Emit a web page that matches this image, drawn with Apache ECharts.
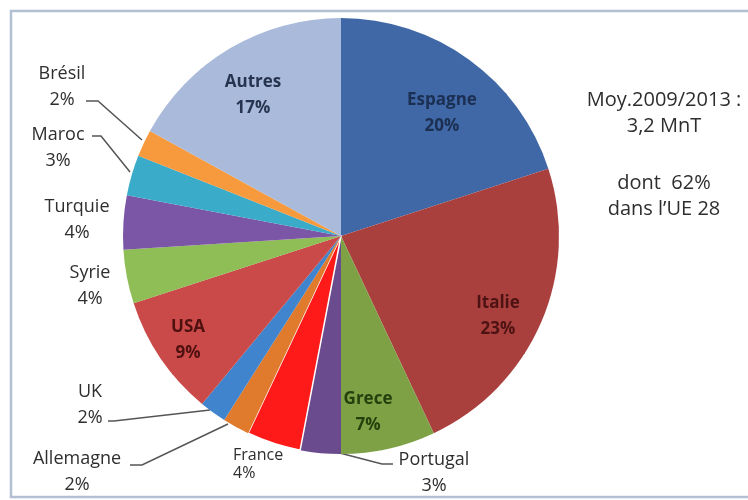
<!DOCTYPE html>
<html><head><meta charset="utf-8">
<script src="https://cdn.jsdelivr.net/npm/echarts@6/dist/echarts.min.js"></script>
<style>html,body{margin:0;padding:0;background:#fff}#c{width:748px;height:500px}</style>
</head><body><div id="c"></div>
<script>
// ---- data ----
const categories = ['Espagne','Italie','Grece','Portugal','France','Allemagne','UK','USA','Syrie','Turquie','Maroc','Brésil','Autres'];
const shares = [20,23,7,3,4,2,2,9,4,4,3,2,17];
const noteLines = ['Moy.2009/2013 :','3,2 MnT','dont  62%','dans l\u2019UE 28'];

// ---- styles / layout ----
const sliceColors = ['#4068a6','#a9403e','#7fa146','#6a4b8e','#ff1a1a','#e07a2c','#3f84cc','#c94a48','#8fbd56','#7c56a6','#3aabc9','#f79a3d','#a9badb'];
const insideText = {0:'#1b2f52',1:'#4d1212',2:'#24400c',7:'#4f1010',12:'#27344f'};
const labelPos = [
  [442,113],[498,316],[368,412],[434,473,'center'],[233,464,'left'],[77,472],[90,405],
  [188,340],[90,286],[77,220],[58,148],[62,87],[253,95]
];
const linePts = {
  3:[[332,451],[382,464],[393,464]],
  5:[[228,424],[142,465],[130,465]],
  6:[[210,410],[114,421],[108,421]],
  10:[[130,172],[101,136],[92,136]],
  11:[[142,140],[98,101],[86,101]]
};
const noLine = {8:true,9:true,4:true};

const chart = echarts.init(document.getElementById('c'), null, {renderer:'canvas'});
const data = categories.map((n,i)=>{
  const inside = insideText[i] !== undefined;
  const d = {name:n, value:shares[i], itemStyle:{color:sliceColors[i]}};
  if (inside) {
    d.label = {position:'inside', color:insideText[i], fontWeight:'bold', fontSize:17, lineHeight:26};
  } else {
    d.label = {position:'outside', color:'#2e2e2e', fontSize:18, lineHeight:26};
    if (noLine[i]) d.labelLine = {show:false};
  }
  if (n === 'France') {
    d.itemStyle.borderColor = '#ffffff';
    d.itemStyle.borderWidth = 1.5;
    d.label.fontSize = 16; d.label.lineHeight = 18;
  }
  return d;
});

chart.setOption({
  backgroundColor:'#ffffff',
  animation:false,
  textStyle:{fontFamily:'Open Sans'},
  graphic:[
    {type:'rect', shape:{x:11,y:11,width:760,height:486}, style:{fill:'none', stroke:'#b3bfd3', lineWidth:2.5}, z:-1},
    ...noteLines.map((t,i)=>({type:'text', x:664, y:[100,126,183,209][i],
      style:{text:t, fill:'#2e2e2e', font:'20px "Open Sans"', textAlign:'center', textVerticalAlign:'middle'}}))
  ],
  series:[{
    type:'pie',
    center:[341,236],
    radius:218,
    startAngle:90,
    clockwise:true,
    avoidLabelOverlap:false,
    itemStyle:{borderWidth:0},
    label:{formatter:'{b}\n{c}%', fontFamily:'Open Sans'},
    labelLine:{show:true, length:10, length2:10, lineStyle:{color:'#555555', width:1.5}},
    emphasis:{disabled:true},
    labelLayout:function(p){
      const i = p.dataIndex, pos = labelPos[i];
      const o = {x:pos[0], y:pos[1], align:pos[2]||'center', verticalAlign:'middle'};
      if (linePts[i]) o.labelLinePoints = linePts[i];
      return o;
    },
    data:data
  }]
});
</script></body></html>
